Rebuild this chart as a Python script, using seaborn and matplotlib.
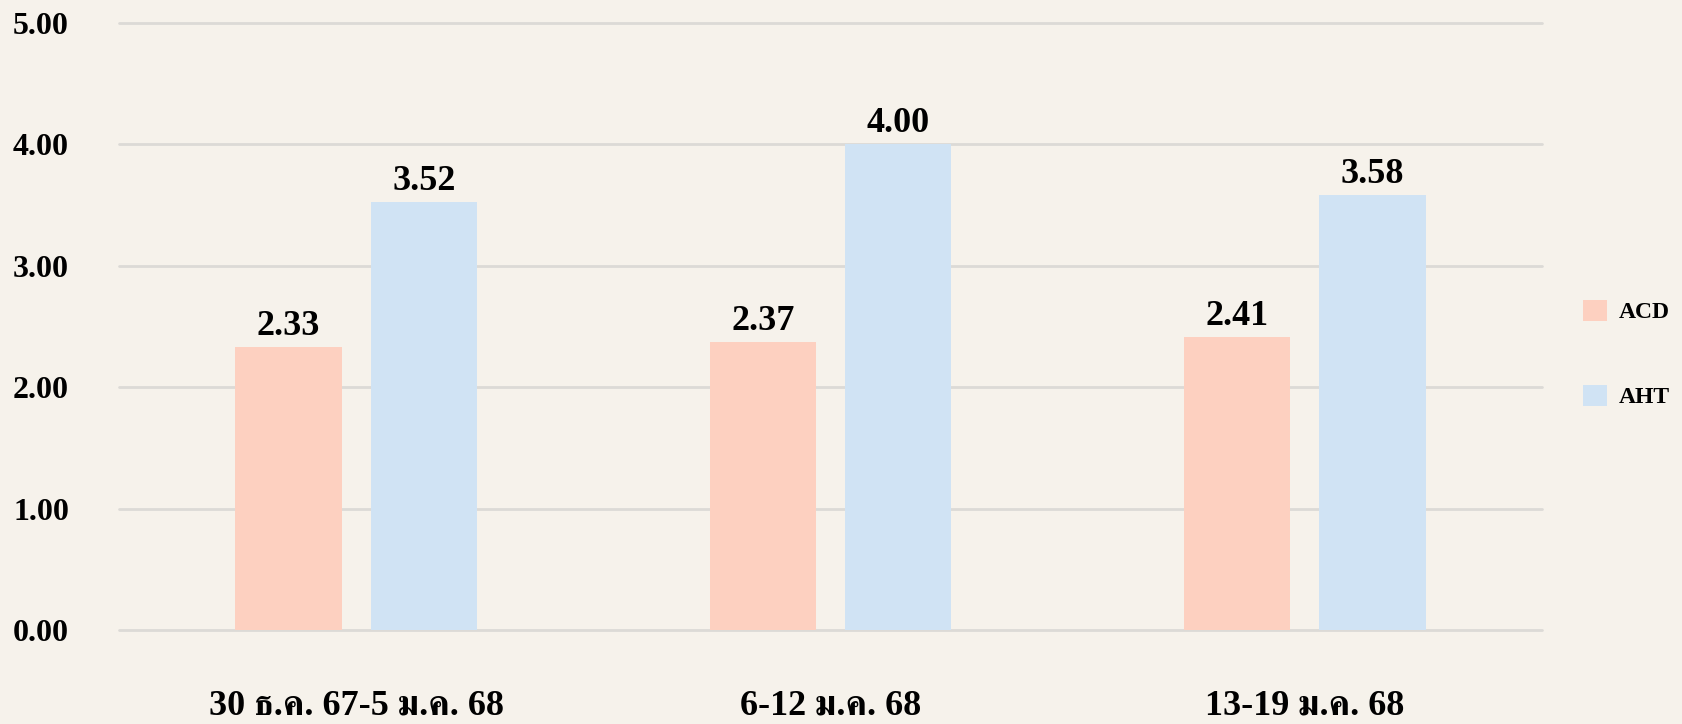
import matplotlib
matplotlib.use("Agg")
import matplotlib.pyplot as plt
import seaborn as sns
import pandas as pd

categories = ["30 ธ.ค. 67-5 ม.ค. 68", "6-12 ม.ค. 68", "13-19 ม.ค. 68"]
acd = [2.33, 2.37, 2.41]
aht = [3.52, 4.00, 3.58]
series_names = ["ACD", "AHT"]
y_ticks = [0, 1, 2, 3, 4, 5]

BG = "#F6F2EB"
COLORS = {"ACD": "#FDD0C0", "AHT": "#D0E3F4"}
GRID = "#DCDAD6"

df = pd.DataFrame({
    "period": categories * 2,
    "series": [series_names[0]] * len(categories) + [series_names[1]] * len(categories),
    "value": acd + aht,
})

sns.set_theme(style="white")
FAM = ["Liberation Serif", "FreeSerif", "DejaVu Serif"]
plt.rcParams["font.family"] = FAM
plt.rcParams["font.weight"] = "bold"

fig = plt.figure(figsize=(16.82, 7.24), dpi=100, facecolor=BG)
ax = fig.add_axes([119 / 1682, 1 - 630 / 724, (1542 - 119) / 1682, (630 - 22.5) / 724])
ax.set_facecolor(BG)

sns.barplot(data=df, x="period", y="value", hue="series", order=categories,
            hue_order=series_names, palette=COLORS, saturation=1,
            width=0.57, gap=0.214, ax=ax, zorder=3, legend=True,
            linewidth=0, edgecolor="none")

ax.set_xlim(-0.5, len(categories) - 0.5)
ax.set_ylim(0, 5)
ax.set_yticks(y_ticks)
ax.set_yticklabels([f"{v:.2f}" for v in y_ticks], fontsize=23, fontweight="bold", color="black")
ax.tick_params(axis="y", length=0, pad=36)
ax.set_xticks(range(len(categories)))
ax.set_xticklabels(categories, fontsize=26, fontweight="bold", color="black")
ax.tick_params(axis="x", length=0, pad=43)
ax.set_xlabel("")
ax.set_ylabel("")
for s in ax.spines.values():
    s.set_visible(False)
ax.yaxis.grid(True, color=GRID, linewidth=2, zorder=0)
ax.set_axisbelow(True)
for gl in ax.get_ygridlines():
    gl.set_clip_on(False)

for cont in ax.containers:
    ax.bar_label(cont, labels=[f"{v:.2f}" for v in cont.datavalues], padding=3,
                 fontsize=26, fontweight="bold", color="black")

leg = ax.legend(loc="center left", bbox_to_anchor=(1583 / 1682, 1 - 354 / 724),
                bbox_transform=fig.transFigure, frameon=False,
                prop={"family": FAM, "weight": "bold", "size": 17},
                handlelength=1.0, handleheight=1.0, handletextpad=0.5,
                labelspacing=2.6, borderpad=0, borderaxespad=0)
for t in leg.get_texts():
    t.set_color("black")
for h in leg.legend_handles:
    h.set_edgecolor("none")

fig.savefig("out.png", dpi=100, facecolor=BG)
